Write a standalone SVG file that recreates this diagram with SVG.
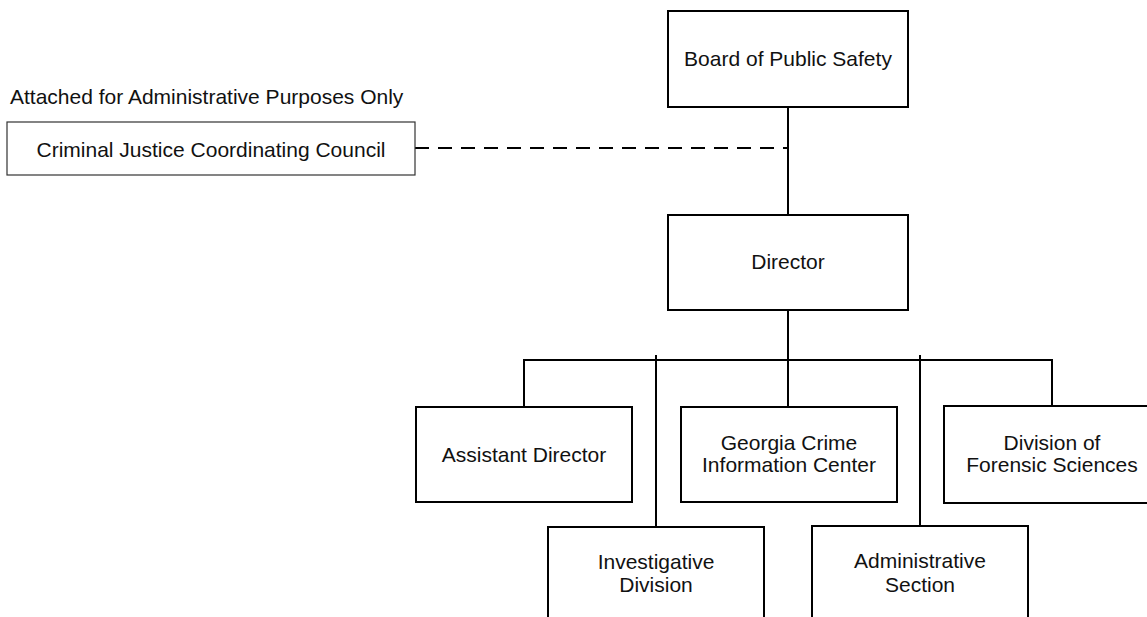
<svg xmlns="http://www.w3.org/2000/svg" width="1147" height="617" viewBox="0 0 1147 617">
<style>
.box{fill:#fff;stroke:#000;stroke-width:2}
.box2{fill:#fff;stroke:#333;stroke-width:1.2}
.t{font-family:"Liberation Sans",Arial,sans-serif;font-size:21px;fill:#111;text-anchor:middle}
.ln{stroke:#000;stroke-width:2;fill:none}
.dash{stroke:#000;stroke-width:2;fill:none;stroke-dasharray:14 9}
</style>
<rect width="1147" height="617" fill="#fff"/>
<g id="connectors">
<line class="dash" x1="415" y1="148" x2="788" y2="148"/>
<line class="ln" x1="788" y1="107" x2="788" y2="215"/>
<line class="ln" x1="788" y1="310" x2="788" y2="407"/>
<polyline class="ln" points="524,407 524,360 1052,360 1052,406"/>
<line class="ln" x1="656" y1="355" x2="656" y2="527"/>
<line class="ln" x1="920" y1="355" x2="920" y2="526"/>
</g>
<g id="board">
<rect class="box" x="668" y="11" width="240" height="96"/>
<text class="t" x="788" y="66">Board of Public Safety</text>
</g>
<g id="attached-label">
<text class="t" x="10" y="104" style="text-anchor:start">Attached for Administrative Purposes Only</text>
</g>
<g id="cjcc">
<rect class="box2" x="7" y="122" width="408" height="53"/>
<text class="t" x="211" y="157">Criminal Justice Coordinating Council</text>
</g>
<g id="director">
<rect class="box" x="668" y="215" width="240" height="95"/>
<text class="t" x="788" y="269">Director</text>
</g>
<g id="assistant-director">
<rect class="box" x="416" y="407" width="216" height="95"/>
<text class="t" x="524" y="462">Assistant Director</text>
</g>
<g id="gcic">
<rect class="box" x="681" y="407" width="216" height="95"/>
<text class="t" x="789" y="450">Georgia Crime</text>
<text class="t" x="789" y="472">Information Center</text>
</g>
<g id="forensic">
<rect class="box" x="944" y="406" width="216" height="97"/>
<text class="t" x="1052" y="450">Division of</text>
<text class="t" x="1052" y="472">Forensic Sciences</text>
</g>
<g id="investigative">
<rect class="box" x="548" y="527" width="216" height="100"/>
<text class="t" x="656" y="569">Investigative</text>
<text class="t" x="656" y="592">Division</text>
</g>
<g id="administrative">
<rect class="box" x="812" y="526" width="216" height="100"/>
<text class="t" x="920" y="568">Administrative</text>
<text class="t" x="920" y="592">Section</text>
</g>
</svg>
